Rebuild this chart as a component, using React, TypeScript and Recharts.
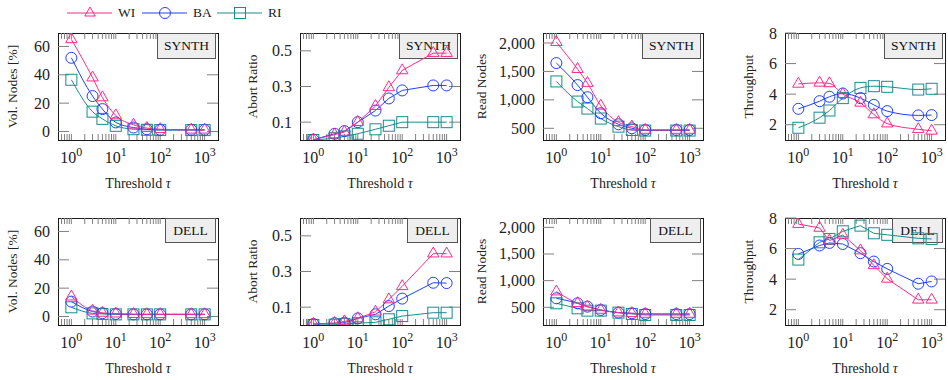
import React from "react";
import { LineChart, Line, XAxis, YAxis, ReferenceLine } from "recharts";

const FONT = '"Liberation Serif", "DejaVu Serif", serif';
const PINK = "#ff2a8a";
const BLUE = "#2040ff";
const TEAL = "#1a8c8c";
const FRAME = "#1a1a1a";
const TICK = "#808080";

// x values (threshold tau)
const thresholds = [1, 3, 5, 10, 25, 50, 100, 500, 1000];
const xMajorTicks = [1, 10, 100, 1000];
const xAllTicks = [
  0.6, 0.7, 0.8, 0.9, 1, 2, 3, 4, 5, 6, 7, 8, 9, 10, 20, 30, 40, 50, 60, 70, 80, 90,
  100, 200, 300, 400, 500, 600, 700, 800, 900, 1000,
];
const X_DOMAIN = [0.5, 2000];

// SYNTH
const synthVolWI = [65, 38, 24, 11.3, 4.7, 2.4, 1.6, 1.2, 1.2];
const synthVolBA = [52, 25, 15.8, 6.4, 2.8, 1.6, 1.2, 1.2, 1.2];
const synthVolRI = [36.5, 14, 8.9, 4, 1.6, 1.2, 1, 1, 1];
const synthAbortWI = [0.002, 0.03, 0.045, 0.1, 0.19, 0.295, 0.39, 0.487, 0.487];
const synthAbortBA = [0.002, 0.035, 0.05, 0.1, 0.165, 0.233, 0.278, 0.306, 0.306];
const synthAbortRI = [0, 0.01, 0.02, 0.035, 0.06, 0.08, 0.1, 0.1, 0.1];
const synthReadWI = [2015, 1540, 1295, 895, 605, 530, 470, 470, 470];
const synthReadBA = [1647, 1260, 1047, 765, 571, 500, 470, 470, 470];
const synthReadRI = [1324, 970, 847, 671, 529, 470, 460, 460, 460];
const synthTputWI = [4.67, 4.74, 4.7, 4.0, 3.43, 2.67, 2.07, 1.7, 1.6];
const synthTputBA = [3.04, 3.54, 3.83, 4.04, 3.74, 3.3, 2.89, 2.61, 2.63];
const synthTputRI = [1.8, 2.46, 2.93, 3.74, 4.41, 4.52, 4.48, 4.3, 4.35];

// DELL
const dellVolWI = [14, 4, 2.5, 2, 1.6, 1.5, 1.5, 1.5, 1.5];
const dellVolBA = [10.5, 3.5, 2.3, 1.8, 1.5, 1.5, 1.5, 1.5, 1.5];
const dellVolRI = [6.5, 2.2, 1.8, 1.5, 1.5, 1.5, 1.5, 1.5, 1.5];
const dellAbortWI = [0.006, 0.01, 0.02, 0.037, 0.074, 0.143, 0.217, 0.4, 0.4];
const dellAbortBA = [0.006, 0.01, 0.013, 0.037, 0.06, 0.106, 0.148, 0.237, 0.235];
const dellAbortRI = [0, 0.002, 0.006, 0.01, 0.015, 0.032, 0.05, 0.069, 0.069];
const dellReadWI = [794, 575, 512, 450, 400, 388, 375, 375, 375];
const dellReadBA = [669, 575, 512, 450, 400, 388, 375, 373, 373];
const dellReadRI = [575, 481, 437, 437, 400, 375, 356, 356, 356];
const dellTputWI = [7.6, 7.35, 6.52, 6.89, 5.87, 4.9, 4.02, 2.65, 2.65];
const dellTputBA = [5.65, 6.2, 6.37, 6.3, 5.7, 5.15, 4.67, 3.7, 3.85];
const dellTputRI = [5.28, 6.41, 6.63, 7.13, 7.5, 7.0, 6.9, 6.67, 6.63];

// y ticks
const volTicks = [0, 20, 40, 60];
const abortTicks = [0.1, 0.3, 0.5];
const readTicks = [500, 1000, 1500, 2000];
const tputTicks = [2, 4, 6, 8];

const PLOT_LEFT = [58, 300, 543, 785];
const Y_LABEL_DIST = [46, 48, 62, 37];
const PLOT_TOP = [33, 218];
const PLOT_W = 160;
const PLOT_H = 107;
const X_TICK_LEN = 6;
const Y_TICK_LEN = 11;

const fmtPlain = (v: number) => String(v);
const fmtComma = (v: number) => v.toLocaleString("en-US");

const panels = [
  { row: 0, col: 0, tag: "SYNTH", wi: synthVolWI, ba: synthVolBA, ri: synthVolRI, label: "Vol. Nodes [%]", domain: [-6, 69.5], ticks: volTicks, fmt: fmtPlain, curve: "monotone" },
  { row: 0, col: 1, tag: "SYNTH", wi: synthAbortWI, ba: synthAbortBA, ri: synthAbortRI, label: "Abort Ratio", domain: [0, 0.6], ticks: abortTicks, fmt: fmtPlain, curve: "linear" },
  { row: 0, col: 2, tag: "SYNTH", wi: synthReadWI, ba: synthReadBA, ri: synthReadRI, label: "Read Nodes", domain: [294, 2176], ticks: readTicks, fmt: fmtComma, curve: "monotone" },
  { row: 0, col: 3, tag: "SYNTH", wi: synthTputWI, ba: synthTputBA, ri: synthTputRI, label: "Throughput", domain: [1, 8], ticks: tputTicks, fmt: fmtPlain, curve: "monotone" },
  { row: 1, col: 0, tag: "DELL", wi: dellVolWI, ba: dellVolBA, ri: dellVolRI, label: "Vol. Nodes [%]", domain: [-6, 69.5], ticks: volTicks, fmt: fmtPlain, curve: "monotone" },
  { row: 1, col: 1, tag: "DELL", wi: dellAbortWI, ba: dellAbortBA, ri: dellAbortRI, label: "Abort Ratio", domain: [0, 0.6], ticks: abortTicks, fmt: fmtPlain, curve: "linear" },
  { row: 1, col: 2, tag: "DELL", wi: dellReadWI, ba: dellReadBA, ri: dellReadRI, label: "Read Nodes", domain: [168, 2175], ticks: readTicks, fmt: fmtComma, curve: "monotone" },
  { row: 1, col: 3, tag: "DELL", wi: dellTputWI, ba: dellTputBA, ri: dellTputRI, label: "Throughput", domain: [1, 8], ticks: tputTicks, fmt: fmtPlain, curve: "linear" },
];

const LX0 = Math.log10(X_DOMAIN[0]);
const LX1 = Math.log10(X_DOMAIN[1]);
// pixel offset inside the plot <-> axis value (only used for tick mark lengths)
const xAtPx = (px: number) => Math.pow(10, LX0 + (px / PLOT_W) * (LX1 - LX0));
const pxOfX = (v: number) => ((Math.log10(v) - LX0) / (LX1 - LX0)) * PLOT_W;
const yAtPx = (px: number, d: number[]) => d[0] + (px / PLOT_H) * (d[1] - d[0]);
const pxOfY = (v: number, d: number[]) => ((v - d[0]) / (d[1] - d[0])) * PLOT_H;

const MARK_R = 5.5;

const triPath = (cx: number, cy: number, r: number) =>
  `M${cx},${cy - r}L${cx + r * 0.866},${cy + r / 2}L${cx - r * 0.866},${cy + r / 2}Z`;

const makeDot = (shape: string, color: string) => (p: any) => {
  const { cx, cy, index } = p;
  if (cx == null || cy == null) return <g key={`d-${index}`} />;
  if (shape === "tri")
    return <path key={`d-${index}`} d={triPath(cx, cy, 6.6)} fill="none" stroke={color} strokeWidth={1} />;
  if (shape === "sq")
    return (
      <rect key={`d-${index}`} x={cx - MARK_R} y={cy - MARK_R} width={MARK_R * 2} height={MARK_R * 2} fill="none" stroke={color} strokeWidth={1} />
    );
  return <circle key={`d-${index}`} cx={cx} cy={cy} r={MARK_R} fill="none" stroke={color} strokeWidth={1} />;
};

const Panel = ({ cfg }: { cfg: any }) => {
  const chartLeft = cfg.col * 237;
  const chartTop = cfg.row * 190;
  const chartW = 237;
  const plotLeft = PLOT_LEFT[cfg.col];
  const plotRight = plotLeft + PLOT_W;
  const plotTop = PLOT_TOP[cfg.row];
  const plotBottom = plotTop + PLOT_H;
  const yAxisW = plotLeft - chartLeft;
  const xAxisH = chartTop + 190 - plotBottom;
  const rightMargin = chartLeft + chartW - plotRight;
  const dom = cfg.domain;

  const data = thresholds.map((t, i) => ({ t, WI: cfg.wi[i], BA: cfg.ba[i], RI: cfg.ri[i] }));

  const boxW = cfg.tag === "SYNTH" ? 59 : 51;
  const boxH = cfg.tag === "SYNTH" ? 26 : 25;
  const boxLeft = plotRight - 2 - boxW;

  const lLeft = plotLeft - chartLeft;
  const lTop = plotTop - chartTop;
  const lBottom = lTop + PLOT_H;

  const topTicks = xAllTicks.filter((v) => plotLeft + pxOfX(v) < boxLeft - 1);
  const rightTicks = cfg.ticks.filter((v: number) => PLOT_H - pxOfY(v, dom) > boxH + 1);

  const XTick = (p: any) => {
    const v = p.payload.value;
    if (!xMajorTicks.includes(v)) return <g />;
    return (
      <text x={p.x} y={lBottom + 23} textAnchor="middle" fontFamily={FONT} fontSize={16} fill="#222">
        <tspan>10</tspan>
        <tspan dy={-7} fontSize={12}>
          {Math.round(Math.log10(v))}
        </tspan>
      </text>
    );
  };

  const YTick = (p: any) => (
    <text x={lLeft - 8} y={p.y} textAnchor="end" dominantBaseline="central" fontFamily={FONT} fontSize={16} fill="#222">
      {cfg.fmt(p.payload.value)}
    </text>
  );

  const xLabel = () => (
    <text x={lLeft + PLOT_W / 2} y={lBottom + 48} textAnchor="middle" fontFamily={FONT} fontSize={14} fill="#222">
      Threshold <tspan fontStyle="italic">τ</tspan>
    </text>
  );

  const lx = lLeft - Y_LABEL_DIST[cfg.col];
  const ly = lTop + PLOT_H / 2;
  const yLabel = () => (
    <text x={lx} y={ly} transform={`rotate(-90 ${lx} ${ly})`} textAnchor="middle" dominantBaseline="central" fontFamily={FONT} fontSize={13.5} fill="#222">
      {cfg.label}
    </text>
  );

  const tickProps = { xAxisId: "x", yAxisId: "y", stroke: TICK, strokeWidth: 1, ifOverflow: "visible" as const };

  return (
    <>
      <div
        style={{
          position: "absolute",
          zIndex: 1,
          left: plotLeft,
          top: plotTop,
          width: PLOT_W + 1,
          height: PLOT_H + 1,
          boxSizing: "border-box",
          border: `1px solid ${FRAME}`,
        }}
      />
      <div
        style={{
          position: "absolute",
          zIndex: 1,
          left: boxLeft,
          top: plotTop,
          width: boxW,
          height: boxH,
          boxSizing: "border-box",
          border: "1px solid #555",
          background: "#eeeeee",
          fontFamily: FONT,
          fontSize: 13.5,
          lineHeight: `${boxH - 2}px`,
          textAlign: "center",
          color: "#111",
        }}
      >
        {cfg.tag}
      </div>
      <div style={{ position: "absolute", zIndex: 2, left: chartLeft, top: chartTop, width: chartW, height: 190 }}>
        <LineChart width={chartW} height={190} data={data} margin={{ top: lTop, right: rightMargin, bottom: 0, left: 0 }}>
          <XAxis
            xAxisId="x"
            dataKey="t"
            type="number"
            scale="log"
            domain={X_DOMAIN}
            allowDataOverflow
            ticks={xMajorTicks}
            interval={0}
            tickLine={false}
            tickSize={0}
            tickMargin={0}
            axisLine={false}
            height={xAxisH}
            tick={XTick}
            label={xLabel}
          />
          <YAxis
            yAxisId="y"
            type="number"
            domain={dom}
            allowDataOverflow
            ticks={cfg.ticks}
            interval={0}
            tickLine={false}
            tickSize={0}
            tickMargin={0}
            axisLine={false}
            width={yAxisW}
            tick={YTick}
            label={yLabel}
          />
          {xAllTicks.map((v) => (
            <ReferenceLine key={`xb-${v}`} {...tickProps} segment={[{ x: v, y: dom[0] }, { x: v, y: yAtPx(X_TICK_LEN, dom) }]} />
          ))}
          {topTicks.map((v) => (
            <ReferenceLine key={`xt-${v}`} {...tickProps} segment={[{ x: v, y: dom[1] }, { x: v, y: yAtPx(PLOT_H - X_TICK_LEN, dom) }]} />
          ))}
          {cfg.ticks.map((v: number) => (
            <ReferenceLine key={`yl-${v}`} {...tickProps} segment={[{ x: X_DOMAIN[0], y: v }, { x: xAtPx(Y_TICK_LEN), y: v }]} />
          ))}
          {rightTicks.map((v: number) => (
            <ReferenceLine key={`yr-${v}`} {...tickProps} segment={[{ x: xAtPx(PLOT_W - Y_TICK_LEN), y: v }, { x: X_DOMAIN[1], y: v }]} />
          ))}
          <Line xAxisId="x" yAxisId="y" dataKey="RI" type={cfg.curve} stroke={TEAL} strokeWidth={1} dot={makeDot("sq", TEAL)} activeDot={false} isAnimationActive={false} />
          <Line xAxisId="x" yAxisId="y" dataKey="BA" type={cfg.curve} stroke={BLUE} strokeWidth={1} dot={makeDot("circle", BLUE)} activeDot={false} isAnimationActive={false} />
          <Line xAxisId="x" yAxisId="y" dataKey="WI" type={cfg.curve} stroke={PINK} strokeWidth={1} dot={makeDot("tri", PINK)} activeDot={false} isAnimationActive={false} />
        </LineChart>
      </div>
    </>
  );
};

const legendItems = [
  { name: "WI", color: PINK, shape: "tri", x0: 67 },
  { name: "BA", color: BLUE, shape: "circle", x0: 142 },
  { name: "RI", color: TEAL, shape: "sq", x0: 217 },
];

const TopLegend = () => (
  <svg width={300} height={24} style={{ position: "absolute", left: 0, top: 0, zIndex: 3 }}>
    {legendItems.map((it) => {
      const mx = it.x0 + 23;
      const y = 13;
      return (
        <g key={it.name}>
          <line x1={it.x0} x2={it.x0 + 45} y1={y} y2={y} stroke={it.color} strokeWidth={1} />
          {it.shape === "tri" && <path d={triPath(mx, y, 6)} fill="none" stroke={it.color} strokeWidth={1} />}
          {it.shape === "circle" && <circle cx={mx} cy={y} r={5.5} fill="none" stroke={it.color} strokeWidth={1} />}
          {it.shape === "sq" && <rect x={mx - 5.5} y={y - 5.5} width={11} height={11} fill="none" stroke={it.color} strokeWidth={1} />}
          <text x={it.x0 + 51} y={17} fontFamily={FONT} fontSize={13.5} fill="#222">
            {it.name}
          </text>
        </g>
      );
    })}
  </svg>
);

export default function App() {
  return (
    <div style={{ position: "absolute", left: 0, top: 0, width: 948, height: 380, background: "#fff", overflow: "hidden" }}>
      {panels.map((p, i) => (
        <Panel key={i} cfg={p} />
      ))}
      <TopLegend />
    </div>
  );
}
